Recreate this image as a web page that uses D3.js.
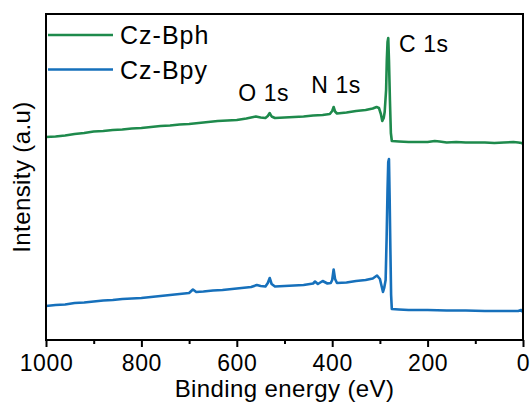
<!DOCTYPE html>
<html>
<head>
<meta charset="utf-8">
<script src="https://cdn.jsdelivr.net/npm/d3@7"></script>
<style>
  body { margin: 0; background: #fff; }
  svg text { font-family: Arial, "Liberation Sans", sans-serif; fill: #000; }
</style>
</head>
<body>
<div id="chart"></div>
<script>
// binding energy (eV) and intensity (a.u.)
const bphEnergy = [1000, 980, 960, 940, 920, 900, 880, 860, 840, 820, 800, 780, 760, 740, 720, 700, 680, 660, 640, 620, 600, 580, 560, 550, 540, 535, 531, 527, 520, 500, 480, 460, 440, 420, 405, 400, 397, 394, 390, 370, 350, 330, 315, 307, 302, 298, 295, 292, 290, 287, 285.5, 284, 282.5, 281, 279, 277, 275, 260, 240, 220, 200, 185, 175, 160, 140, 120, 100, 80, 60, 40, 20, 10, 3, 0];
const bphIntensity = [203, 203.5, 204.5, 206, 207, 208.5, 209, 210, 210.5, 211.5, 212, 213, 214, 214.5, 215.5, 216, 217, 218, 219, 219.5, 220, 221.5, 223.5, 222.5, 222, 224, 227, 223.5, 222, 222.5, 223, 223.5, 224.5, 225, 226, 229, 233, 228.5, 226.5, 227.5, 229, 230, 231.5, 233, 232, 226, 219, 222, 228, 250, 280, 298, 302, 280, 240, 207, 199, 198.5, 198, 198, 198, 199, 198.5, 197.5, 198, 197.5, 197.5, 197.5, 197, 197.5, 198, 197.5, 197, 196];

const bpyEnergy = [1000, 980, 960, 940, 920, 900, 880, 860, 840, 820, 800, 780, 760, 740, 720, 700, 692, 685, 670, 650, 630, 610, 590, 570, 558, 550, 540, 535, 531, 527, 520, 500, 480, 460, 440, 436, 430, 420, 410, 403, 400, 397, 394, 390, 370, 350, 330, 315, 306, 300, 296, 293.5, 291, 288, 286, 284, 282.5, 281, 279.5, 278, 276.5, 275, 260, 240, 200, 160, 120, 80, 40, 10, 4, 0];
const bpyIntensity = [34, 35, 35.5, 37, 37.5, 38.5, 39.5, 40, 41, 41.5, 42, 43, 44, 45, 46, 47, 50.5, 48, 48.5, 49.5, 50, 51, 52, 53, 55, 54, 53.5, 57, 62, 56, 53.5, 54, 54.5, 55, 56.5, 58.5, 56, 59, 56.5, 57, 60, 70.5, 61, 57, 57.5, 59, 60, 61.5, 64.5, 61, 53, 48, 52, 60, 100, 150, 178, 181, 140, 90, 45, 31, 30.5, 30, 30, 29.5, 29.5, 29, 29, 29, 30, 28];

const seriesNames = ['Cz-Bph', 'Cz-Bpy'];
const seriesColors = ['#1e8a4c', '#1670bb'];

const majorTicks = [1000, 800, 600, 400, 200, 0];
const minorTicks = [900, 700, 500, 300, 100];

const peakLabels = ['O 1s', 'N 1s', 'C 1s'];
const peakEnergies = [597, 444, 260];
const peakHeights = [239, 247, 288];

const width = 532;
const height = 403;
const margin = { top: 14, right: 9, bottom: 63, left: 46 };

const svg = d3.select('#chart')
  .append('svg')
  .attr('width', width)
  .attr('height', height);

const xScale = d3.scaleLinear()
  .domain([1000, 0])
  .range([margin.left, width - margin.right]);

const yScale = d3.scaleLinear()
  .domain([0, 326])
  .range([height - margin.bottom, margin.top]);

const line = d3.line()
  .x(d => xScale(d[0]))
  .y(d => yScale(d[1]));

const series = [
  d3.zip(bphEnergy, bphIntensity),
  d3.zip(bpyEnergy, bpyIntensity),
];

series.forEach((pts, i) => {
  svg.append('path')
    .datum(pts)
    .attr('fill', 'none')
    .attr('stroke', seriesColors[i])
    .attr('stroke-width', 2.6)
    .attr('stroke-linejoin', 'round')
    .attr('d', line);
});

// minor ticks first, then major ticks with labels
const baseY = height - margin.bottom;
svg.append('g')
  .attr('transform', `translate(0, ${baseY})`)
  .call(d3.axisBottom(xScale).tickValues(minorTicks).tickSize(4).tickSizeOuter(0).tickFormat(''))
  .call(g => g.select('.domain').remove())
  .selectAll('line').attr('stroke-width', 2);

const xAxis = svg.append('g')
  .attr('transform', `translate(0, ${baseY})`)
  .call(d3.axisBottom(xScale).tickValues(majorTicks).tickSize(7).tickSizeOuter(0).tickPadding(8).tickFormat(d3.format('d')));
xAxis.select('.domain').remove();
xAxis.selectAll('line').attr('stroke-width', 2);
xAxis.selectAll('text')
  .style('font-size', '23px')
  .style('font-family', 'Arial, "Liberation Sans", sans-serif')
  .style('letter-spacing', '0.6px');

// frame
svg.append('rect')
  .attr('x', margin.left)
  .attr('y', margin.top)
  .attr('width', width - margin.left - margin.right)
  .attr('height', height - margin.top - margin.bottom)
  .attr('fill', 'none')
  .attr('stroke', '#000')
  .attr('stroke-width', 2);

svg.append('text')
  .attr('x', (margin.left + width - margin.right) / 2)
  .attr('y', 397)
  .attr('text-anchor', 'middle')
  .style('font-size', '24px')
  .style('letter-spacing', '0.4px')
  .text('Binding energy (eV)');

svg.append('text')
  .attr('transform', `translate(30, ${(margin.top + baseY) / 2}) rotate(-90)`)
  .attr('text-anchor', 'middle')
  .style('font-size', '24px')
  .style('letter-spacing', '0.4px')
  .text('Intensity (a.u)');

// peak labels
svg.selectAll('.peak')
  .data(peakLabels)
  .enter()
  .append('text')
  .attr('class', 'peak')
  .attr('x', (d, i) => xScale(peakEnergies[i]))
  .attr('y', (d, i) => yScale(peakHeights[i]))
  .style('font-size', '23px')
  .style('letter-spacing', '0.6px')
  .text(d => d);

// legend
const legend = svg.selectAll('.legend')
  .data(seriesNames)
  .enter()
  .append('g')
  .attr('class', 'legend')
  .attr('transform', (d, i) => `translate(48, ${35 + i * 34.5})`);

legend.append('line')
  .attr('x1', 0)
  .attr('x2', 65)
  .attr('stroke', (d, i) => seriesColors[i])
  .attr('stroke-width', 2.5);

legend.append('text')
  .attr('x', 72)
  .attr('y', 9)
  .style('font-size', '25px')
  .style('letter-spacing', '1px')
  .text(d => d);
</script>
</body>
</html>
